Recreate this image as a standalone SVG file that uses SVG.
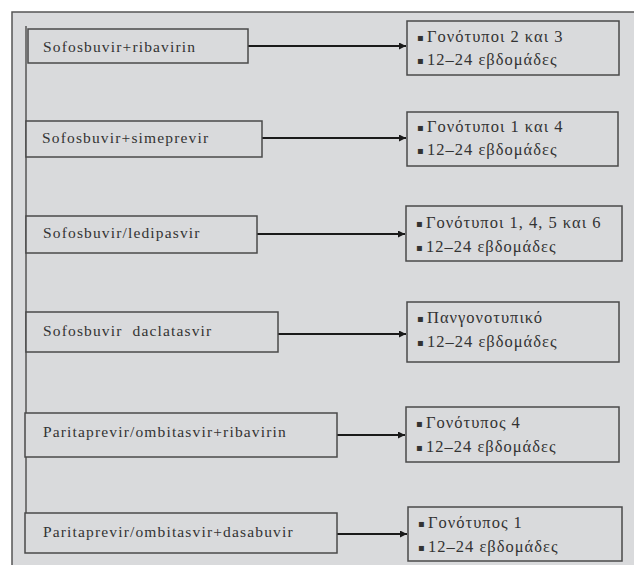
<svg xmlns="http://www.w3.org/2000/svg" width="634" height="565" viewBox="0 0 634 565">
<style>
.bg{fill:#d9dadc;stroke:#555;stroke-width:1.5}
.box{fill:#d9dadc;stroke:#4a4a4a;stroke-width:1.5}
.t{font-family:"Liberation Serif",serif;font-size:15.5px;fill:#333;letter-spacing:1.15px}
.r{font-family:"Liberation Serif",serif;font-size:16.5px;fill:#333;letter-spacing:1px}
.b{font-family:"DejaVu Sans",sans-serif;font-size:10px;fill:#333}
.c{stroke:#1a1a1a;stroke-width:2;fill:none}
.trunk{stroke:#555;stroke-width:1.5;fill:none}
</style>
<defs>
<marker id="ah" viewBox="0 0 10 10" refX="10" refY="5" markerWidth="7" markerHeight="7" markerUnits="userSpaceOnUse" orient="auto">
<path d="M0,0 L10,5 L0,10 Z" fill="#1a1a1a"/>
</marker>
</defs>
<rect x="0" y="0" width="634" height="565" fill="#fff"/>
<rect class="bg" x="12" y="12" width="630" height="560"/>
<g id="connectors">
<path class="trunk" d="M26,26 V553"/>
<path class="c" d="M248,46 H406" marker-end="url(#ah)"/>
<path class="c" d="M262,138 H406" marker-end="url(#ah)"/>
<path class="c" d="M257,234 H405" marker-end="url(#ah)"/>
<path class="c" d="M278,334 H406" marker-end="url(#ah)"/>
<path class="c" d="M337,435 H405" marker-end="url(#ah)"/>
<path class="c" d="M337,534 H407" marker-end="url(#ah)"/>
</g>
<g id="n1"><rect class="box" x="28" y="29" width="220" height="34"/><text class="t" x="43" y="52">Sofosbuvir+ribavirin</text></g>
<g id="n2"><rect class="box" x="26" y="121" width="236" height="36"/><text class="t" x="42" y="143">Sofosbuvir+simeprevir</text></g>
<g id="n3"><rect class="box" x="26" y="216" width="231" height="37"/><text class="t" x="43" y="238">Sofosbuvir/ledipasvir</text></g>
<g id="n4"><rect class="box" x="26" y="312" width="252" height="40"/><text class="t" x="43" y="336" xml:space="preserve">Sofosbuvir  daclatasvir</text></g>
<g id="n5"><rect class="box" x="25" y="413" width="312" height="44"/><text class="t" x="43" y="437">Paritaprevir/ombitasvir+ribavirin</text></g>
<g id="n6"><rect class="box" x="25" y="513" width="312" height="40"/><text class="t" x="43" y="537">Paritaprevir/ombitasvir+dasabuvir</text></g>
<g id="r1"><rect class="box" x="407" y="21" width="212" height="54"/>
<text class="b" x="417" y="41">▪</text><text class="r" x="427" y="42">Γονότυποι 2 και 3</text>
<text class="b" x="417" y="64">▪</text><text class="r" x="427" y="65">12–24 εβδομάδες</text></g>
<g id="r2"><rect class="box" x="407" y="112" width="211" height="54"/>
<text class="b" x="417" y="131">▪</text><text class="r" x="427" y="132">Γονότυποι 1 και 4</text>
<text class="b" x="417" y="154">▪</text><text class="r" x="427" y="155">12–24 εβδομάδες</text></g>
<g id="r3"><rect class="box" x="406" y="206" width="216" height="55"/>
<text class="b" x="416" y="227">▪</text><text class="r" x="426" y="228">Γονότυποι 1, 4, 5 και 6</text>
<text class="b" x="416" y="251">▪</text><text class="r" x="426" y="252">12–24 εβδομάδες</text></g>
<g id="r4"><rect class="box" x="407" y="302" width="212" height="60"/>
<text class="b" x="417" y="322">▪</text><text class="r" x="427" y="323">Πανγονοτυπικό</text>
<text class="b" x="417" y="346">▪</text><text class="r" x="427" y="347">12–24 εβδομάδες</text></g>
<g id="r5"><rect class="box" x="406" y="407" width="213" height="55"/>
<text class="b" x="416" y="427">▪</text><text class="r" x="426" y="428">Γονότυπος 4</text>
<text class="b" x="416" y="451">▪</text><text class="r" x="426" y="452">12–24 εβδομάδες</text></g>
<g id="r6"><rect class="box" x="408" y="507" width="214" height="54"/>
<text class="b" x="418" y="527">▪</text><text class="r" x="428" y="528">Γονότυπος 1</text>
<text class="b" x="418" y="551">▪</text><text class="r" x="428" y="552">12–24 εβδομάδες</text></g>
</svg>
